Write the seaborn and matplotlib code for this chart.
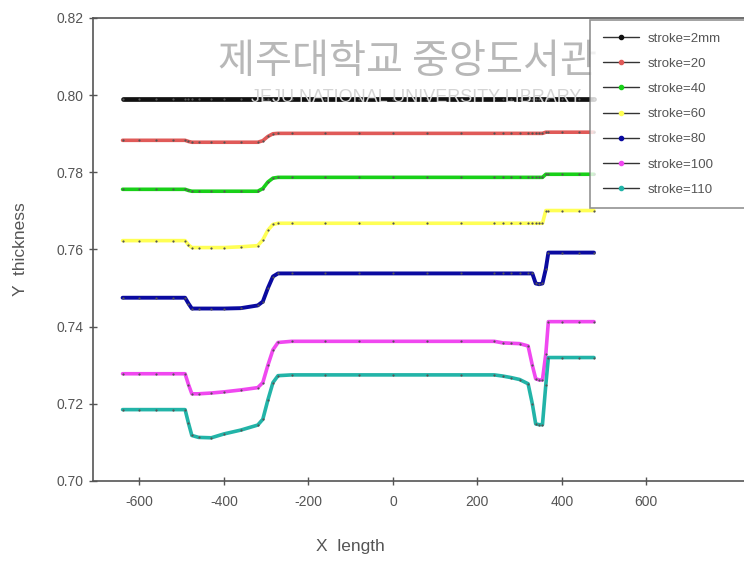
import numpy as np
import pandas as pd
import matplotlib
matplotlib.use("Agg")
import matplotlib.pyplot as plt
from matplotlib.lines import Line2D
import seaborn as sns

# Sample positions along the strip (X length)
x_pos = [-640, -600, -560, -520, -492, -484, -476, -460, -430, -400, -360, -320,
         -308, -296, -284, -272, -240, -160, -80, 0, 80, 160, 240, 260,
         280, 300, 320, 330, 338, 346, 354, 362, 368, 400, 440, 476]

labels = ["stroke=2mm", "stroke=20", "stroke=40", "stroke=60",
          "stroke=80", "stroke=100", "stroke=110"]

thk_2mm = [0.7990] * 36

thk_20 = [0.7883, 0.7883, 0.7883, 0.7883, 0.7883, 0.7880, 0.7878, 0.7878, 0.7878,
          0.7878, 0.7878, 0.7878, 0.7882, 0.7893, 0.7900, 0.7901, 0.7901, 0.7901,
          0.7901, 0.7901, 0.7901, 0.7901, 0.7901, 0.7901, 0.7901, 0.7901, 0.7901,
          0.7901, 0.7901, 0.7901, 0.7901, 0.7904, 0.7904, 0.7904, 0.7904, 0.7904]

thk_40 = [0.7756, 0.7756, 0.7756, 0.7756, 0.7756, 0.7753, 0.7751, 0.7751, 0.7751,
          0.7751, 0.7751, 0.7751, 0.7758, 0.7775, 0.7785, 0.7787, 0.7787, 0.7787,
          0.7787, 0.7787, 0.7787, 0.7787, 0.7787, 0.7787, 0.7787, 0.7787, 0.7787,
          0.7787, 0.7787, 0.7787, 0.7787, 0.7795, 0.7795, 0.7795, 0.7795, 0.7795]

thk_60 = [0.7623, 0.7623, 0.7623, 0.7623, 0.7623, 0.7612, 0.7605, 0.7605, 0.7605,
          0.7605, 0.7607, 0.7610, 0.7625, 0.7650, 0.7665, 0.7668, 0.7668, 0.7668,
          0.7668, 0.7668, 0.7668, 0.7668, 0.7668, 0.7668, 0.7668, 0.7668, 0.7668,
          0.7668, 0.7668, 0.7668, 0.7668, 0.7701, 0.7701, 0.7701, 0.7701, 0.7701]

thk_80 = [0.7475, 0.7475, 0.7475, 0.7475, 0.7475, 0.7460, 0.7447, 0.7447, 0.7447,
          0.7447, 0.7448, 0.7455, 0.7465, 0.7500, 0.7530, 0.7538, 0.7538, 0.7538,
          0.7538, 0.7538, 0.7538, 0.7538, 0.7538, 0.7538, 0.7538, 0.7538, 0.7538,
          0.7538, 0.7512, 0.7510, 0.7512, 0.7550, 0.7592, 0.7592, 0.7592, 0.7592]

thk_100 = [0.7278, 0.7278, 0.7278, 0.7278, 0.7278, 0.7250, 0.7226, 0.7226, 0.7228,
           0.7231, 0.7236, 0.7242, 0.7255, 0.7300, 0.7340, 0.7359, 0.7362, 0.7362,
           0.7362, 0.7362, 0.7362, 0.7362, 0.7362, 0.7358, 0.7357, 0.7356, 0.7350,
           0.7300, 0.7265, 0.7262, 0.7262, 0.7330, 0.7413, 0.7413, 0.7413, 0.7413]

thk_110 = [0.7185, 0.7185, 0.7185, 0.7185, 0.7185, 0.7150, 0.7118, 0.7113, 0.7112,
           0.7122, 0.7132, 0.7145, 0.7160, 0.7210, 0.7255, 0.7273, 0.7275, 0.7275,
           0.7275, 0.7275, 0.7275, 0.7275, 0.7275, 0.7272, 0.7268, 0.7263, 0.7252,
           0.7200, 0.7148, 0.7146, 0.7146, 0.7250, 0.7320, 0.7320, 0.7320, 0.7320]

series = [thk_2mm, thk_20, thk_40, thk_60, thk_80, thk_100, thk_110]
colors = ["#111111", "#e05a58", "#18d018", "#ffff55", "#0a0aa0", "#f048f0", "#22b4a8"]
widths = [3.4, 2.6, 2.6, 2.6, 2.8, 2.6, 2.6]

x_ticks = [-600, -400, -200, 0, 200, 400, 600]
y_ticks = [0.70, 0.72, 0.74, 0.76, 0.78, 0.80, 0.82]

df = pd.concat(
    [pd.DataFrame({"x": x_pos, "y": vals, "series": lab}) for lab, vals in zip(labels, series)],
    ignore_index=True,
)

sns.set_style("ticks")
plt.rcParams["font.family"] = ["Liberation Sans", "DejaVu Sans"]
plt.rcParams["axes.unicode_minus"] = False

fig = plt.figure(figsize=(7.44, 5.63), dpi=100)
# the plot frame runs past the right edge of the canvas
ax = fig.add_axes([93 / 744, 1 - 481 / 563, (760 - 93) / 744, (481 - 18) / 563])

# Library watermark behind the data
fig.text(0.548, 1 - 62 / 563, "제주대학교 중앙도서관", family=["Noto Sans CJK KR", "DejaVu Sans"],
         fontsize=29, color="#b8b8b8", ha="center", va="center", zorder=0)
fig.text(0.56, 1 - 98 / 563, "JEJU NATIONAL UNIVERSITY LIBRARY", fontsize=13,
         color="#d4d4d4", ha="center", va="center", zorder=0)

palette = dict(zip(labels, colors))
sns.lineplot(data=df, x="x", y="y", hue="series", palette=palette, ax=ax,
             estimator=None, sort=False, linewidth=2.6, marker="o", markersize=1.6,
             markeredgewidth=0, legend=False)
for ln, w in zip(ax.get_lines(), widths):
    ln.set_markerfacecolor("#555555")
    ln.set_linewidth(w)

ax.set_xlim(-710, 869)
ax.set_ylim(0.70, 0.82)
ax.set_xticks(x_ticks)
ax.set_yticks(y_ticks)
ax.set_yticklabels([f"{v:.2f}" for v in y_ticks])
ax.tick_params(axis="both", direction="inout", length=6, width=1, color="#555555",
               labelcolor="#555555", labelsize=10)
ax.tick_params(axis="x", pad=7)
ax.tick_params(axis="y", pad=4)
for sp in ax.spines.values():
    sp.set_color("#555555")
    sp.set_linewidth(1.2)

ax.set_xlabel("X  length", fontsize=12.5, color="#555555")
ax.xaxis.set_label_coords((350 - 93) / (760 - 93), -0.125)
ax.set_ylabel("Y  thickness", fontsize=12.5, color="#555555", labelpad=20)

handles = [Line2D([0], [0], color="#333333", lw=1.0, marker="o", markersize=3,
                  markerfacecolor=c, markeredgecolor=c) for c in colors]
leg = fig.legend(handles, labels, loc="upper left",
                 bbox_to_anchor=(590 / 744, 1 - 206 / 563, 0.3, (206 - 20) / 563),
                 bbox_transform=fig.transFigure, mode="expand",
                 fontsize=9.5, frameon=True, fancybox=False, numpoints=1,
                 handlelength=2.8, handletextpad=0.6, labelspacing=0.98,
                 borderpad=0.95, borderaxespad=0)
leg.get_frame().set_edgecolor("#777777")
leg.get_frame().set_linewidth(1.2)
for t in leg.get_texts():
    t.set_color("#555555")

fig.savefig("out.png", dpi=100)
